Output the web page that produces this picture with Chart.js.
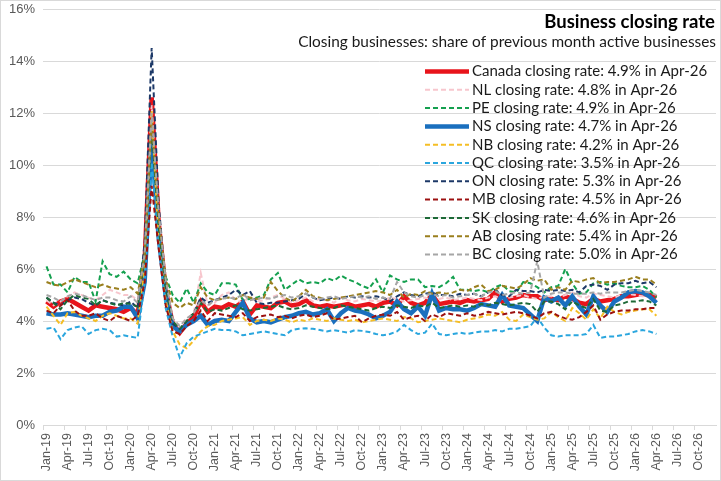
<!DOCTYPE html>
<html>
<head>
<meta charset="utf-8">
<script src="https://cdn.jsdelivr.net/npm/chart.js"></script>
<style>
  html, body { margin: 0; padding: 0; background: #fff; }
  #wrap { width: 721px; height: 481px; }
</style>
</head>
<body>
<div id="wrap"><canvas id="closingChart" width="721" height="481"></canvas></div>
<script>
// categories: Jan-19 .. Dec-26, data runs to Apr-26
const monthNames = ['Jan', 'Feb', 'Mar', 'Apr', 'May', 'Jun', 'Jul', 'Aug', 'Sep', 'Oct', 'Nov', 'Dec'];
const years = ['19', '20', '21', '22', '23', '24', '25', '26'];
const lastMonth = 'Apr-26';

const regions = ['Canada', 'NL', 'PE', 'NS', 'NB', 'QC', 'ON', 'MB', 'SK', 'AB', 'BC'];

// closing rate, % of previous month active businesses
const canada = [4.75, 4.55, 4.75, 4.85, 4.7, 4.55, 4.4, 4.6, 4.55, 4.5, 4.45, 4.35,
  4.5, 4.25, 6.3, 12.6, 7.8, 5.2, 3.9, 3.55, 3.9, 4.15, 4.75, 4.35,
  4.55, 4.5, 4.65, 4.55, 4.75, 4.25, 4.6, 4.55, 4.5, 4.7, 4.75, 4.6,
  4.65, 4.8, 4.6, 4.55, 4.6, 4.55, 4.6, 4.65, 4.55, 4.6, 4.65, 4.55,
  4.7, 4.75, 4.6, 4.95, 4.7, 4.6, 4.7, 5.0, 4.65, 4.7, 4.75, 4.7,
  4.8, 4.75, 4.8, 4.85, 5.1, 4.75, 4.85, 4.9, 5.0, 4.95, 4.95, 4.8,
  4.85, 4.8, 4.95, 4.85, 4.7, 4.65, 4.85, 4.75, 4.8, 4.85, 4.95, 4.95,
  5.0, 5.05, 5.0, 4.9];
const nl = [4.8, 4.6, 4.75, 4.95, 5.1, 5.0, 4.9, 4.8, 5.0, 5.2, 5.1, 5.0,
  5.0, 4.8, 6.4, 12.3, 8.0, 5.4, 4.0, 3.85, 4.1, 4.3, 5.85, 4.6,
  4.7, 5.0, 5.1, 4.8, 4.7, 4.95, 4.75, 4.8, 4.9, 5.0, 4.85, 4.7,
  4.8, 4.9, 4.75, 4.85, 4.8, 4.7, 4.9, 4.8, 4.75, 4.85, 4.8, 4.75,
  4.8, 4.9, 4.85, 4.75, 4.8, 4.85, 4.9, 4.8, 4.85, 4.9, 4.8, 4.85,
  4.9, 4.85, 4.8, 4.9, 4.95, 4.85, 4.9, 4.95, 5.0, 4.9, 4.85, 4.95,
  4.95, 4.9, 5.0, 5.1, 4.95, 4.9, 5.05, 5.0, 4.95, 4.9, 5.0, 5.05,
  5.0, 4.95, 4.9, 4.8];
const pe = [6.1, 5.4, 5.4, 5.1, 5.7, 5.5, 5.5, 4.75, 6.3, 5.8, 5.7, 5.9,
  5.6, 5.45, 6.6, 11.0, 7.8, 5.7, 5.0, 4.7, 5.25, 4.7, 5.45, 5.1,
  5.0, 5.45, 5.45, 5.4, 4.8, 4.85, 4.9, 5.0, 5.6, 5.85, 5.2, 5.4,
  5.6, 5.45, 5.5, 5.45, 5.65, 5.55, 5.75, 5.6, 5.5, 5.35, 5.25, 5.6,
  5.1, 5.75, 5.6, 5.5, 5.6, 5.6, 5.3, 5.35, 5.3, 5.45, 5.7, 5.2,
  5.2, 5.15, 5.2, 5.1, 5.3, 5.4, 5.15, 5.1, 5.5, 5.45, 5.3, 5.1,
  5.3, 5.35, 6.0, 5.45, 5.05, 5.1, 5.45, 5.5, 5.4, 5.45, 5.35, 5.3,
  5.3, 5.35, 5.2, 4.9];
const ns = [4.3, 4.25, 4.25, 4.3, 4.25, 4.2, 4.15, 4.2, 4.2, 4.35, 4.4, 4.55,
  4.55, 4.1, 5.5, 11.0, 7.2, 5.0, 3.8, 3.6, 3.85, 4.0, 4.2, 3.85,
  4.0, 4.05, 4.0, 4.35, 4.7, 4.1, 3.95, 4.0, 3.95, 4.05, 4.15, 4.2,
  4.3, 4.35, 4.25, 4.3, 4.45, 4.0, 4.3, 4.5, 4.4, 4.35, 4.25, 4.1,
  4.2, 4.35, 4.75, 4.45, 4.3, 4.55, 4.2, 5.05, 4.4, 4.5, 4.45, 4.45,
  4.4, 4.5, 4.65, 4.6, 4.55, 5.0, 4.6, 4.55, 4.5, 4.25, 4.0, 4.9,
  4.75, 4.9, 4.6, 4.95, 4.55, 4.25, 4.95, 4.6, 4.35, 4.75, 4.9, 5.1,
  5.15, 5.1, 4.95, 4.7];
const nb = [4.55, 4.2, 3.85, 4.3, 4.35, 4.2, 4.1, 4.0, 4.2, 4.3, 4.2, 4.1,
  4.1, 3.9, 6.0, 12.1, 7.0, 4.8, 3.6, 3.1, 2.95, 3.25, 3.6, 3.8,
  3.85, 4.0, 4.05, 4.1, 4.15, 3.85, 4.0, 4.05, 4.0, 4.1, 4.05, 3.95,
  4.05, 4.0, 4.1, 4.05, 4.0, 4.1, 4.05, 4.0, 4.05, 3.95, 4.0, 4.05,
  4.1, 4.05, 4.0, 4.15, 4.1, 3.95, 4.0, 4.05, 4.1, 4.05, 4.0, 3.95,
  4.05, 4.1, 4.15, 4.25, 4.2, 4.35, 4.05, 4.0, 4.25, 4.15, 4.05, 4.1,
  4.35, 4.15, 4.0, 4.5, 4.3, 4.05, 4.45, 4.1, 4.55, 4.35, 4.25, 4.35,
  4.4, 4.45, 4.45, 4.2];
const qc = [3.7, 3.75, 3.3, 3.65, 3.75, 3.8, 3.5, 3.65, 3.7, 3.65, 3.4, 3.45,
  3.4, 3.35, 5.5, 10.1, 7.0, 4.5, 3.4, 2.6, 3.15, 3.4, 3.5, 3.6,
  3.7, 3.65, 3.65, 3.6, 3.45, 3.5, 3.55, 3.6, 3.55, 3.5, 3.45, 3.65,
  3.7, 3.72, 3.7, 3.65, 3.6, 3.65, 3.6, 3.55, 3.65, 3.62, 3.58, 3.5,
  3.45, 3.5, 3.6, 3.85, 3.65, 3.5, 3.55, 3.9, 3.5, 3.45, 3.5, 3.55,
  3.5, 3.55, 3.6, 3.6, 3.65, 3.6, 3.7, 3.7, 3.75, 3.8, 4.15, 3.75,
  3.45, 3.4, 3.45, 3.45, 3.45, 3.5, 3.85, 3.35, 3.4, 3.4, 3.45, 3.5,
  3.6, 3.65, 3.6, 3.5];
const on = [4.9, 4.7, 4.6, 4.8, 4.9, 4.85, 4.7, 4.6, 4.8, 4.7, 4.65, 4.6,
  4.75, 4.5, 7.0, 14.5, 8.5, 5.4, 3.9, 3.7, 4.0, 4.3, 4.9, 4.7,
  4.8, 4.9, 5.0, 5.2, 5.0, 5.15, 4.7, 4.65, 4.7, 4.7, 4.75, 4.8,
  4.85, 5.05, 4.9, 4.8, 4.85, 4.9, 4.85, 4.95, 4.9, 4.95, 4.9, 4.95,
  4.9, 4.75, 4.95, 5.1, 5.0, 4.95, 5.05, 5.1, 5.0, 5.0, 4.95, 5.05,
  5.0, 5.05, 4.95, 5.1, 5.2, 5.0, 4.95, 5.2, 5.15, 5.15, 5.1, 5.2,
  5.15, 5.2, 5.15, 5.2, 5.1, 5.35, 5.4, 5.35, 5.2, 5.4, 5.45, 5.45,
  5.55, 5.45, 5.5, 5.3];
const mb = [4.4, 4.3, 4.6, 4.8, 4.4, 4.2, 4.2, 4.3, 4.1, 4.0, 4.2, 4.1,
  4.0, 4.2, 5.5, 9.2, 6.8, 4.6, 3.6, 3.5, 3.8, 4.0, 4.4, 4.0,
  4.3, 4.25, 4.2, 4.15, 4.3, 4.0, 4.15, 4.2, 4.25, 4.15, 4.2, 4.1,
  4.2, 4.25, 4.15, 4.2, 4.3, 4.05, 4.1, 4.15, 4.2, 3.95, 4.1, 4.2,
  4.25, 4.2, 4.35, 4.05, 4.15, 4.2, 4.0, 4.25, 4.15, 4.3, 4.25, 4.2,
  4.3, 4.2, 4.25, 4.35, 4.3, 4.25, 4.3, 4.35, 4.3, 4.2, 4.1, 4.3,
  4.35, 4.2, 4.1, 4.05, 4.15, 4.35, 4.6, 4.05, 4.25, 4.35, 4.4, 4.4,
  4.45, 4.45, 4.5, 4.5];
const sk = [4.9, 4.7, 4.45, 4.8, 5.0, 4.9, 4.85, 4.6, 4.8, 4.7, 4.6, 4.7,
  4.65, 4.55, 6.4, 11.5, 7.6, 5.3, 4.0, 3.7, 4.0, 4.3, 4.7, 4.35,
  4.45, 4.4, 4.5, 4.6, 4.45, 4.4, 4.45, 4.5, 4.55, 4.6, 4.5, 4.45,
  4.5, 4.6, 4.55, 4.5, 4.45, 4.5, 4.6, 4.55, 4.5, 4.45, 4.4, 4.5,
  4.55, 4.5, 4.6, 4.55, 4.5, 4.6, 4.55, 4.7, 4.5, 4.55, 4.6, 4.55,
  4.6, 4.55, 4.65, 4.6, 4.7, 4.65, 4.6, 4.65, 4.7, 4.65, 4.35, 4.75,
  4.75, 4.65, 4.45, 4.75, 4.6, 4.5, 4.85, 4.4, 4.35, 4.6, 4.65, 4.75,
  4.75, 4.8, 4.75, 4.6];
const ab = [5.5, 5.4, 5.35, 5.5, 5.6, 5.5, 5.4, 5.3, 5.4, 5.3, 5.25, 5.2,
  5.3, 5.05, 6.5, 11.8, 8.0, 5.6, 4.7, 4.5, 4.7, 4.6, 5.3, 4.9,
  4.8, 4.85, 4.9, 4.85, 5.0, 4.9, 4.85, 4.9, 5.5, 5.15, 4.9, 4.75,
  4.95, 5.2, 4.95, 4.9, 4.8, 4.85, 4.9, 4.95, 5.0, 5.05, 5.1, 5.15,
  5.1, 5.0, 5.2, 4.9, 5.05, 5.0, 5.15, 5.05, 5.1, 5.05, 5.1, 5.2,
  5.15, 5.3, 5.4, 5.15, 5.2, 5.35, 5.3, 5.25, 5.4, 5.65, 5.55, 5.6,
  5.2, 5.3, 5.2, 5.55, 5.5, 5.6, 5.65, 5.45, 5.5, 5.5, 5.55, 5.6,
  5.7, 5.6, 5.6, 5.4];
const bc = [5.0, 4.9, 4.75, 4.95, 5.05, 5.0, 4.9, 4.8, 4.9, 4.9, 4.8, 4.75,
  4.95, 4.7, 6.6, 12.0, 8.2, 5.6, 4.1, 3.8, 4.1, 4.3, 4.8, 4.6,
  4.8, 4.85, 4.9, 4.85, 5.05, 4.8, 4.85, 4.9, 4.85, 4.95, 5.0, 4.9,
  4.95, 5.05, 4.9, 4.85, 4.9, 4.95, 4.85, 4.9, 4.95, 4.9, 4.95, 4.85,
  4.9, 4.85, 5.5, 5.1, 4.95, 4.9, 5.0, 5.05, 4.95, 5.0, 4.9, 4.95,
  5.0, 5.05, 4.95, 5.1, 5.15, 5.0, 5.05, 5.1, 5.05, 5.1, 6.3, 4.9,
  5.05, 5.1, 5.1, 5.05, 5.05, 5.05, 5.1, 5.05, 5.1, 5.1, 5.1, 5.15,
  5.2, 5.15, 5.1, 5.0];

const seriesValues = [canada, nl, pe, ns, nb, qc, on, mb, sk, ab, bc];

// y axis tick values
const yTicks = [0, 2, 4, 6, 8, 10, 12, 14, 16];

const labels = [];
years.forEach(y => monthNames.forEach(m => labels.push(m + '-' + y)));

// line styles, in the same order as regions
const lineStyles = [
  { color: '#E8141B', width: 4.5, dash: [] },
  { color: '#F7C6CD', width: 2, dash: [5, 3] },
  { color: '#14A04F', width: 2, dash: [5, 3] },
  { color: '#1A6FBE', width: 4.5, dash: [] },
  { color: '#F5BE25', width: 2, dash: [5, 3] },
  { color: '#2AA6DE', width: 2, dash: [5, 3] },
  { color: '#1C3867', width: 2, dash: [5, 3] },
  { color: '#9C1010', width: 2, dash: [5, 3] },
  { color: '#1D6A37', width: 2, dash: [5, 3] },
  { color: '#9A7F1E', width: 2, dash: [5, 3] },
  { color: '#A6A6A6', width: 2, dash: [5, 3] }
];

const datasets = regions.map((r, i) => {
  const vals = seriesValues[i];
  return {
    label: r + ' closing rate: ' + vals[vals.length - 1].toFixed(1) + '% in ' + lastMonth,
    data: vals,
    borderColor: lineStyles[i].color,
    backgroundColor: lineStyles[i].color,
    borderWidth: lineStyles[i].width,
    borderDash: lineStyles[i].dash,
    pointRadius: 0,
    tension: 0,
    fill: false,
    order: regions.length - i   // later series drawn on top, like Excel
  };
});

const frame = {
  id: 'frame',
  beforeDraw(chart) {
    const c = chart.ctx;
    c.save();
    c.fillStyle = '#fff';
    c.fillRect(0, 0, chart.width, chart.height);
    c.restore();
  },
  afterDraw(chart) {
    const c = chart.ctx;
    c.save();
    c.strokeStyle = '#d9d9d9';
    c.lineWidth = 1;
    c.strokeRect(0.5, 0.5, chart.width - 1, chart.height - 1);
    c.restore();
  }
};

const headings = {
  id: 'headings',
  afterDraw(chart) {
    const c = chart.ctx;
    c.save();
    c.textAlign = 'right';
    c.textBaseline = 'alphabetic';
    c.fillStyle = '#000';
    c.font = 'bold 18.5px Lato';
    c.fillText('Business closing rate', 715, 28);
    c.fillStyle = '#1a1a1a';
    c.font = '15.4px Lato';
    c.fillText('Closing businesses: share of previous month active businesses', 716, 47);
    c.restore();
  }
};

const boxLegend = {
  id: 'boxLegend',
  afterDraw(chart) {
    const c = chart.ctx;
    c.save();
    c.font = '15px Lato';
    c.textAlign = 'left';
    c.textBaseline = 'middle';
    chart.data.datasets.forEach((ds, i) => {
      const y = 71.5 + i * 18.3;
      c.strokeStyle = ds.borderColor;
      c.lineWidth = ds.borderWidth;
      c.setLineDash(ds.borderDash);
      c.beginPath();
      c.moveTo(425, y);
      c.lineTo(469, y);
      c.stroke();
      c.fillStyle = '#1a1a1a';
      c.fillText(ds.label, 472, y);
    });
    c.restore();
  }
};

new Chart(document.getElementById('closingChart'), {
  type: 'line',
  data: { labels: labels, datasets: datasets },
  options: {
    responsive: false,
    animation: false,
    layout: { padding: { top: 9, right: 5, left: 0, bottom: 0 } },
    plugins: {
      legend: { display: false },
      title: { display: false },
      tooltip: { enabled: false }
    },
    scales: {
      x: {
        type: 'category',
        offset: true,
        afterFit: s => { s.height = 56; s.paddingLeft = 0; s.paddingRight = 0; },
        grid: {
          offset: true,
          drawOnChartArea: false,
          drawTicks: true,
          tickLength: 5,
          color: ctx => (ctx.index % 3 === 0 ? '#d9d9d9' : 'rgba(0,0,0,0)')
        },
        border: { display: true, color: '#d9d9d9' },
        ticks: {
          autoSkip: false,
          maxRotation: 90,
          minRotation: 90,
          padding: 3,
          color: '#595959',
          font: { family: 'Liberation Sans', size: 12.5 },
          callback: (v, i) => (i % 3 === 0 ? labels[i] : '')
        }
      },
      y: {
        min: yTicks[0],
        max: yTicks[yTicks.length - 1],
        afterFit: s => { s.width = 43; s.paddingTop = 0; s.paddingBottom = 0; },
        afterBuildTicks: s => { s.ticks = yTicks.map(v => ({ value: v })); },
        grid: { color: '#d9d9d9', drawTicks: false },
        border: { display: false },
        ticks: {
          padding: 8,
          color: '#595959',
          font: { family: 'Liberation Sans', size: 13 },
          callback: v => v + '%'
        }
      }
    }
  },
  plugins: [frame, headings, boxLegend]
});
</script>
</body>
</html>
